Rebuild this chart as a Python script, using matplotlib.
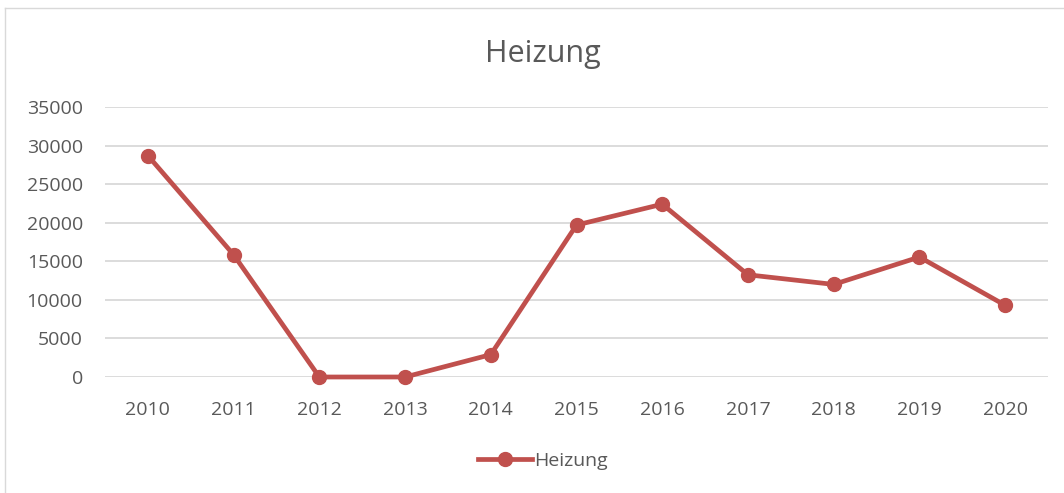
import matplotlib.pyplot as plt
from matplotlib.lines import Line2D

years = ['2010', '2011', '2012', '2013', '2014', '2015', '2016', '2017', '2018', '2019', '2020']
heizung = [28700, 15850, 0, 0, 2900, 19700, 22400, 13250, 12000, 15550, 9300]
y_ticks = [0, 5000, 10000, 15000, 20000, 25000, 30000, 35000]

plt.rcParams['font.family'] = ['Open Sans', 'DejaVu Sans']
text_color = '#595959'
line_color = '#C0504D'

fig = plt.figure(figsize=(10.64, 4.93), dpi=100)
ax = fig.add_axes([105 / 1064, 1 - 377 / 493, 943 / 1064, 270 / 493])

x = list(range(len(years)))
ax.plot(x, heizung, color=line_color, linewidth=3.4, marker='o', markersize=10,
        solid_capstyle='round', label='Heizung', zorder=3, clip_on=False)

ax.set_xlim(-0.5, len(years) - 0.5)
ax.set_ylim(0, 35000)
ax.set_xticks(x)
ax.set_xticklabels(years)
ax.set_yticks(y_ticks)
ax.set_yticklabels([str(v) for v in y_ticks])
ax.grid(axis='y', color='#D9D9D9', linewidth=1.3)
ax.set_axisbelow(True)
for s in ax.spines.values():
    s.set_visible(False)
ax.tick_params(length=0, labelsize=14, labelcolor=text_color)
ax.tick_params(axis='x', pad=17)
ax.tick_params(axis='y', pad=16)

fig.text(543 / 1064, 1 - 54 / 493, 'Heizung', ha='center', va='center',
         fontsize=22, color=text_color)

handle = Line2D([], [], color=line_color, linewidth=3.4, marker='o', markersize=10)
fig.legend([handle], ['Heizung'], loc='center', bbox_to_anchor=(543 / 1064, 1 - 461 / 493),
           frameon=False, fontsize=14, labelcolor=text_color, handlelength=2.8,
           handletextpad=0.1)

# chart border
fig.add_artist(Line2D([5 / 1064, 5 / 1064], [0, 1 - 8 / 493], transform=fig.transFigure,
                      color='#D9D9D9', linewidth=1))
fig.add_artist(Line2D([5 / 1064, 1], [1 - 8 / 493, 1 - 8 / 493], transform=fig.transFigure,
                      color='#D9D9D9', linewidth=1))

fig.savefig('out.png', dpi=100, facecolor='white')
